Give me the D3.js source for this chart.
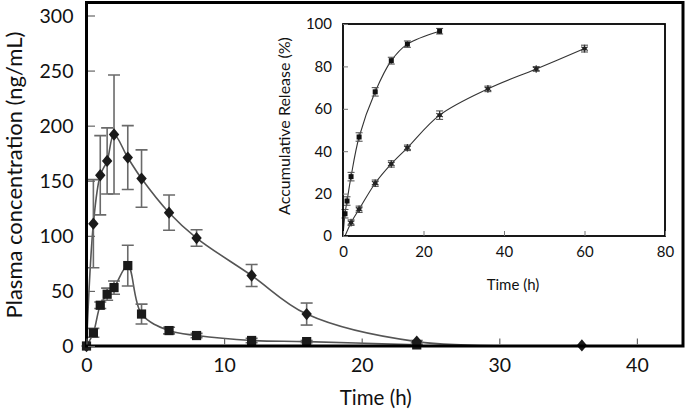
<!DOCTYPE html>
<html><head><meta charset="utf-8">
<script src="https://cdn.jsdelivr.net/npm/d3@7"></script>
<style>body{margin:0;background:#fff}svg{display:block}text{font-family:Lato,"Open Sans",sans-serif;fill:#111}</style>
</head><body><svg id="c" width="685" height="412"></svg>
<script>
// ---- main chart data ----
const mainXTicks = [0, 10, 20, 30, 40];
const mainYTicks = [0, 50, 100, 150, 200, 250, 300];
const diamondTime = [0, 0.5, 1, 1.5, 2, 3, 4, 6, 8, 12, 16, 24, 36];
const diamondConc = [0, 111, 155, 168, 192, 171, 152, 121, 98, 64, 29, 4, 0.5];
const diamondErr  = [0, 40, 36, 30, 54, 29, 26, 16, 7.5, 10, 10, 1, 0];
const squareTime = [0, 0.5, 1, 1.5, 2, 3, 4, 6, 8, 12, 16, 24];
const squareConc = [0, 12, 37, 47, 53, 73, 29, 14, 9.5, 5, 4, 1];
const squareErr  = [0, 4, 3, 5.5, 6, 18.5, 9, 3, 2, 2, 1, 0.5];
// ---- inset data ----
const insetXTicks = [0, 20, 40, 60, 80];
const insetYTicks = [0, 20, 40, 60, 80, 100];
const fastTime = [0, 0.5, 1, 2, 4, 8, 12, 16, 24];
const fastRel  = [0, 10.5, 16.5, 28, 46.7, 68, 82.7, 90.5, 96.6];
const fastErr  = [0, 2, 2, 2, 2, 2, 1.6, 1.5, 1.3];
const slowTime = [0.5, 2, 4, 8, 12, 16, 24, 36, 48, 60];
const slowRel  = [0, 6.3, 12.6, 24.9, 34, 41.6, 57, 69.4, 78.8, 88.4];
const slowErr  = [0, 1.3, 1.5, 1.5, 1.5, 1.3, 2, 1.3, 1.1, 1.6];

const svg = d3.select("#c");
svg.append("rect").attr("width",685).attr("height",412).attr("fill","#fff");

// ===== main chart =====
const M = {l:86.5, t:2.5, r:683, b:346};
const x = d3.scaleLinear().domain([0, 43.35]).range([M.l, M.r]);
const y = d3.scaleLinear().domain([0, 311.8]).range([M.b, M.t]);

const lineCol = "#555", errCol = "#6a6a6a", markCol = "#1a1a1a";

const g = svg.append("g");
svg.append("clipPath").attr("id","mclip").append("rect")
  .attr("x",M.l).attr("y",M.t).attr("width",M.r-M.l).attr("height",M.b-M.t);
const gc = g.append("g").attr("clip-path","url(#mclip)");

function series(gp, xs, ys, es, xsc, ysc, curve, lw, capW, ecol, lcol){
  const pts = xs.map((t,i)=>({t, v:ys[i], e:es[i]}));
  gp.append("path").datum(pts)
    .attr("d", d3.line().x(d=>xsc(d.t)).y(d=>ysc(d.v)).curve(curve))
    .attr("fill","none").attr("stroke",lcol).attr("stroke-width",lw);
  const eb = gp.append("g").attr("stroke",ecol).attr("stroke-width",lw).attr("fill","none");
  pts.filter(d=>d.e>0).forEach(d=>{
    const cx = xsc(d.t), y1 = ysc(d.v+d.e), y2 = ysc(Math.max(0,d.v-d.e));
    eb.append("line").attr("x1",cx).attr("x2",cx).attr("y1",y1).attr("y2",y2);
    eb.append("line").attr("x1",cx-capW).attr("x2",cx+capW).attr("y1",y1).attr("y2",y1);
    eb.append("line").attr("x1",cx-capW).attr("x2",cx+capW).attr("y1",y2).attr("y2",y2);
  });
  return pts;
}

const dPts = series(gc, diamondTime, diamondConc, diamondErr, x, y, d3.curveCatmullRom.alpha(0.5), 1.6, 6, errCol, lineCol);
const sPts = series(gc, squareTime, squareConc, squareErr, x, y, d3.curveCatmullRom.alpha(0.5), 1.6, 6, errCol, lineCol);

// markers
g.append("g").selectAll("path").data(dPts).join("path")
  .attr("transform", d=>`translate(${x(d.t)},${y(d.v)}) scale(1,1.1)`)
  .attr("d", "M0,-5.6L5.2,0L0,5.6L-5.2,0Z").attr("fill",markCol);
g.append("g").selectAll("rect").data(sPts).join("rect")
  .attr("x", d=>x(d.t)-4.6).attr("y", d=>y(d.v)-4.6).attr("width",9.2).attr("height",9.2)
  .attr("fill",markCol);

// frame + axes
g.append("rect").attr("x",M.l).attr("y",M.t).attr("width",M.r-M.l).attr("height",M.b-M.t)
  .attr("fill","none").attr("stroke","#000").attr("stroke-width",3);
const ax = g.append("g").attr("transform",`translate(0,${M.b})`)
  .call(d3.axisBottom(x).tickValues(mainXTicks).tickSizeInner(-6).tickSizeOuter(0).tickPadding(12));
const ay = g.append("g").attr("transform",`translate(${M.l},0)`)
  .call(d3.axisLeft(y).tickValues(mainYTicks).tickSizeInner(-7).tickSizeOuter(0).tickPadding(13));
[ax, ay].forEach(a=>{
  a.select(".domain").remove();
  a.selectAll(".tick line").attr("stroke","#666").attr("stroke-width",1.2);
  a.selectAll(".tick text").attr("font-family","Lato").attr("font-size",19.5).attr("fill","#111");
});
ax.selectAll(".tick line").attr("transform","translate(0,-1.5)");
ay.selectAll(".tick line").attr("transform","translate(1.5,0)");
ay.selectAll(".tick text").attr("dy","0.35em");

g.append("text").attr("x",(M.l+M.r)/2-9).attr("y",405).attr("text-anchor","middle")
  .attr("font-size",20.5).text("Time (h)");
g.append("text").attr("transform",`translate(22,175) rotate(-90)`).attr("text-anchor","middle")
  .attr("font-size",22).text("Plasma concentration (ng/mL)");

// ===== inset =====
const I = {l:343, t:24, r:665, b:236};
const xi = d3.scaleLinear().domain([0,80]).range([I.l, I.r]);
const yi = d3.scaleLinear().domain([0,100]).range([I.b, I.t]);
const gi = svg.append("g");
gi.append("rect").attr("x",I.l).attr("y",I.t).attr("width",I.r-I.l).attr("height",I.b-I.t).attr("fill","#fff");

const fPts = series(gi, fastTime, fastRel, fastErr, xi, yi, d3.curveCatmullRom.alpha(0.5), 1.1, 3.5, "#555", "#333");
const slPts = series(gi, slowTime, slowRel, slowErr, xi, yi, d3.curveCatmullRom.alpha(0.5), 1.1, 3.5, "#555", "#333");

gi.append("g").selectAll("rect").data(fPts.slice(1)).join("rect")
  .attr("x", d=>xi(d.t)-2.5).attr("y", d=>yi(d.v)-2.5).attr("width",5).attr("height",5).attr("fill","#111");
const st = gi.append("g").selectAll("g").data(slPts.slice(1)).join("g")
  .attr("transform", d=>`translate(${xi(d.t)},${yi(d.v)})`);
st.append("path").attr("d", d3.symbol(d3.symbolAsterisk, 40)()).attr("stroke","#333").attr("stroke-width",1.2).attr("fill","none");
st.append("circle").attr("r",2.2).attr("fill","#222");

gi.append("rect").attr("x",I.l).attr("y",I.t).attr("width",I.r-I.l).attr("height",I.b-I.t)
  .attr("fill","none").attr("stroke","#000").attr("stroke-width",1.8);
const axi = gi.append("g").attr("transform",`translate(0,${I.b})`)
  .call(d3.axisBottom(xi).tickValues(insetXTicks).tickSizeInner(-5).tickSizeOuter(0).tickPadding(10));
const ayi = gi.append("g").attr("transform",`translate(${I.l},0)`)
  .call(d3.axisLeft(yi).tickValues(insetYTicks).tickSizeInner(-5).tickSizeOuter(0).tickPadding(11));
[axi, ayi].forEach(a=>{
  a.select(".domain").remove();
  a.selectAll(".tick line").attr("stroke","#777").attr("stroke-width",1);
  a.selectAll(".tick text").attr("font-family","Lato").attr("font-size",15).attr("fill","#111");
});
gi.append("text").attr("x",513).attr("y",290).attr("text-anchor","middle").attr("font-size",15).text("Time (h)");
gi.append("text").attr("transform",`translate(290,126) rotate(-90)`).attr("text-anchor","middle")
  .attr("font-size",16).text("Accumulative Release (%)");
</script></body></html>
